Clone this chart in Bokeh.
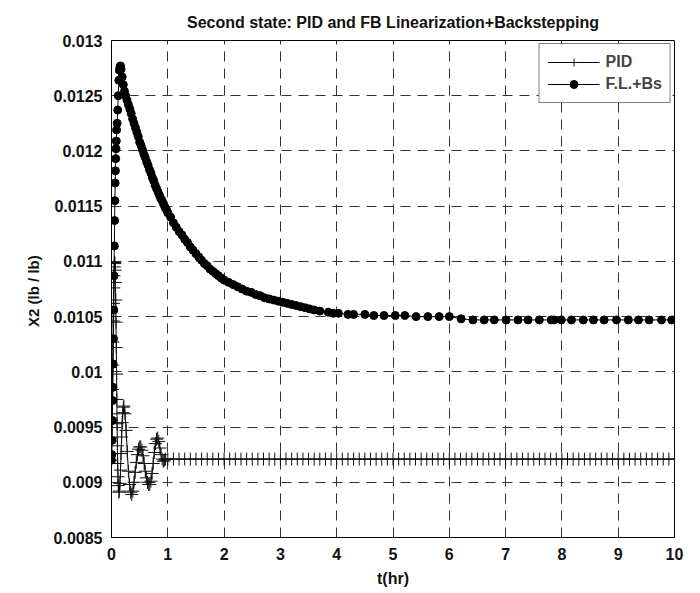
from bokeh.plotting import figure
from bokeh.models import Range1d, FixedTicker, Legend, LegendItem
from bokeh.embed import file_html
from bokeh.resources import INLINE

# ---------------- data ----------------
x_ticks = [0, 1, 2, 3, 4, 5, 6, 7, 8, 9, 10]
y_ticks = [0.0085, 0.009, 0.0095, 0.01, 0.0105, 0.011, 0.0115, 0.012, 0.0125, 0.013]
y_tick_labels = ["0.0085", "0.009", "0.0095", "0.01", "0.0105", "0.011", "0.0115", "0.012", "0.0125", "0.013"]

# PID response: transient part
pid_t = [0.000, 0.005, 0.010, 0.015, 0.020, 0.025, 0.030, 0.035, 0.040, 0.045,
         0.050, 0.055, 0.060, 0.065, 0.070, 0.075, 0.080, 0.085, 0.090, 0.095,
         0.100, 0.105, 0.110, 0.115, 0.120, 0.130, 0.140, 0.150, 0.160, 0.170,
         0.180, 0.190, 0.200, 0.210, 0.220, 0.240, 0.260, 0.280, 0.300, 0.320,
         0.340, 0.360, 0.380, 0.400, 0.420, 0.440, 0.460, 0.480, 0.500, 0.520,
         0.540, 0.560, 0.580, 0.600, 0.620, 0.640, 0.660, 0.680, 0.700, 0.720,
         0.740, 0.760, 0.780, 0.800, 0.820, 0.840, 0.860, 0.880, 0.900, 0.920,
         0.940, 0.960]
pid_x2 = [0.00920, 0.00940, 0.00962, 0.00984, 0.01006, 0.01027, 0.01046, 0.01062, 0.01076, 0.01087,
          0.01095, 0.01099, 0.01098, 0.01092, 0.01081, 0.01065, 0.01045, 0.01022, 0.00998, 0.00975,
          0.00953, 0.00933, 0.00917, 0.00905, 0.00897, 0.00891, 0.00892, 0.00899, 0.00911, 0.00926,
          0.00941, 0.00954, 0.00963, 0.00968, 0.00969, 0.00962, 0.00947, 0.00928, 0.00910, 0.00898,
          0.00891, 0.00889, 0.00892, 0.00900, 0.00909, 0.00918, 0.00925, 0.00930, 0.00932, 0.00932,
          0.00929, 0.00924, 0.00917, 0.00910, 0.00904, 0.00900, 0.00898, 0.00898, 0.00901, 0.00908,
          0.00917, 0.00927, 0.00935, 0.00939, 0.00940, 0.00937, 0.00931, 0.00925, 0.00921, 0.00919,
          0.00920, 0.00921]

# PID response: steady part
pid_tail_t = [1.0, 1.1, 1.2, 1.3, 1.4, 1.5, 1.6, 1.7, 1.8, 1.9,
              2.0, 2.1, 2.2, 2.3, 2.4, 2.5, 2.6, 2.7, 2.8, 2.9,
              3.0, 3.1, 3.2, 3.3, 3.4, 3.5, 3.6, 3.7, 3.8, 3.9,
              4.0, 4.1, 4.2, 4.3, 4.4, 4.5, 4.6, 4.7, 4.8, 4.9,
              5.0, 5.1, 5.2, 5.3, 5.4, 5.5, 5.6, 5.7, 5.8, 5.9,
              6.0, 6.1, 6.2, 6.3, 6.4, 6.5, 6.6, 6.7, 6.8, 6.9,
              7.0, 7.1, 7.2, 7.3, 7.4, 7.5, 7.6, 7.7, 7.8, 7.9,
              8.0, 8.1, 8.2, 8.3, 8.4, 8.5, 8.6, 8.7, 8.8, 8.9,
              9.0, 9.1, 9.2, 9.3, 9.4, 9.5, 9.6, 9.7, 9.8, 9.9,
              10.0]
pid_tail_x2 = [0.00921, 0.00921, 0.00921, 0.00921, 0.00921, 0.00921, 0.00921, 0.00921, 0.00921, 0.00921,
               0.00921, 0.00921, 0.00921, 0.00921, 0.00921, 0.00921, 0.00921, 0.00921, 0.00921, 0.00921,
               0.00921, 0.00921, 0.00921, 0.00921, 0.00921, 0.00921, 0.00921, 0.00921, 0.00921, 0.00921,
               0.00921, 0.00921, 0.00921, 0.00921, 0.00921, 0.00921, 0.00921, 0.00921, 0.00921, 0.00921,
               0.00921, 0.00921, 0.00921, 0.00921, 0.00921, 0.00921, 0.00921, 0.00921, 0.00921, 0.00921,
               0.00921, 0.00921, 0.00921, 0.00921, 0.00921, 0.00921, 0.00921, 0.00921, 0.00921, 0.00921,
               0.00921, 0.00921, 0.00921, 0.00921, 0.00921, 0.00921, 0.00921, 0.00921, 0.00921, 0.00921,
               0.00921, 0.00921, 0.00921, 0.00921, 0.00921, 0.00921, 0.00921, 0.00921, 0.00921, 0.00921,
               0.00921, 0.00921, 0.00921, 0.00921, 0.00921, 0.00921, 0.00921, 0.00921, 0.00921, 0.00921,
               0.00921]

# Feedback linearization + backstepping response
fl_t = [0.000, 0.005, 0.010, 0.015, 0.020, 0.025, 0.030, 0.035, 0.040, 0.045,
        0.050, 0.055, 0.060, 0.065, 0.070, 0.075, 0.080, 0.085, 0.090, 0.100,
        0.110, 0.120, 0.130, 0.140, 0.150, 0.160, 0.170, 0.190, 0.210, 0.230,
        0.250, 0.275, 0.300, 0.325, 0.350, 0.375, 0.400, 0.425, 0.450, 0.475,
        0.500, 0.525, 0.550, 0.575, 0.600, 0.625, 0.650, 0.675, 0.700, 0.725,
        0.750, 0.775, 0.800, 0.825, 0.850, 0.875, 0.900, 0.925, 0.950, 0.975,
        1.00, 1.05, 1.10, 1.15, 1.20, 1.25, 1.30, 1.35, 1.40, 1.45,
        1.50, 1.55, 1.60, 1.65, 1.70, 1.75, 1.80, 1.85, 1.90, 1.95,
        2.00, 2.08, 2.16, 2.24, 2.32, 2.40, 2.48, 2.56, 2.64, 2.72,
        2.80, 2.88, 2.96, 3.04, 3.12, 3.20, 3.28, 3.36, 3.44, 3.52,
        3.60, 3.70, 3.85, 3.94, 4.03, 4.20, 4.30, 4.50, 4.66, 4.84,
        5.04, 5.21, 5.41, 5.62, 5.82, 6.00, 6.21, 6.42, 6.62, 6.80,
        7.01, 7.22, 7.40, 7.60, 7.81, 7.86, 7.99, 8.17, 8.38, 8.56,
        8.75, 8.97, 9.18, 9.36, 9.55, 9.77, 9.95, 10.00]
fl_x2 = [0.00920, 0.00925, 0.00938, 0.00956, 0.00974, 0.00986, 0.01007, 0.01030, 0.01056, 0.01087,
         0.01114, 0.01137, 0.01155, 0.01171, 0.01182, 0.01193, 0.01202, 0.01209, 0.01219, 0.01225,
         0.01237, 0.01250, 0.01264, 0.01273, 0.01276, 0.01277, 0.01274, 0.01267, 0.01260, 0.01254,
         0.01250, 0.01246, 0.01242, 0.01238, 0.01234, 0.01229, 0.01225, 0.01221, 0.01217, 0.01213,
         0.01208, 0.01205, 0.01201, 0.01197, 0.01194, 0.01190, 0.01187, 0.01183, 0.01180, 0.01176,
         0.01173, 0.01169, 0.01166, 0.01163, 0.01160, 0.01157, 0.01155, 0.01152, 0.01149, 0.01147,
         0.01144, 0.01140, 0.01135, 0.01131, 0.01127, 0.01124, 0.01120, 0.01117, 0.01113, 0.01110,
         0.01107, 0.01104, 0.01101, 0.01098, 0.01096, 0.01093, 0.01091, 0.01089, 0.01087, 0.01085,
         0.01083, 0.01081, 0.01079, 0.01077, 0.01075, 0.01073, 0.01072, 0.01070, 0.01069, 0.01067,
         0.01066, 0.01065, 0.01064, 0.01063, 0.01062, 0.01061, 0.01060, 0.01059, 0.01058, 0.01057,
         0.01056, 0.01055, 0.01054, 0.01053, 0.01053, 0.01052, 0.01052, 0.01052, 0.01051, 0.01051,
         0.01051, 0.01051, 0.01050, 0.01050, 0.01050, 0.01050, 0.01048, 0.01047, 0.01047, 0.01047,
         0.01047, 0.01047, 0.01047, 0.01047, 0.01047, 0.01047, 0.01047, 0.01047, 0.01047, 0.01047,
         0.01047, 0.01047, 0.01047, 0.01047, 0.01047, 0.01047, 0.01047, 0.01047]

assert len(pid_t) == len(pid_x2)
assert len(pid_tail_t) == len(pid_tail_x2)
assert len(fl_t) == len(fl_x2)

# ---------------- figure ----------------
FONT = "Liberation Sans"

p = figure(width=700, height=593, output_backend="svg", toolbar_location=None,
           x_range=Range1d(0, 10), y_range=Range1d(0.0085, 0.013),
           min_border_left=111, min_border_right=26, min_border_top=40, min_border_bottom=56,
           title="Second state: PID and FB Linearization+Backstepping")
p.background_fill_color = "white"
p.border_fill_color = "white"
p.outline_line_color = "black"
p.outline_line_width = 1
p.outline_line_alpha = 1

p.title.align = "center"
p.title.text_font = FONT
p.title.text_font_size = "16px"
p.title.text_font_style = "bold"
p.title.text_color = "#111111"
p.title.standoff = 19

p.xaxis.ticker = FixedTicker(ticks=x_ticks)
p.yaxis.ticker = FixedTicker(ticks=y_ticks)
p.yaxis.major_label_overrides = dict(zip(y_ticks, y_tick_labels))
p.xaxis.axis_label = "t(hr)"
p.yaxis.axis_label = "X2  (lb / lb)"
for ax in (p.xaxis, p.yaxis):
    ax.major_tick_in = 0
    ax.major_tick_out = 0
    ax.minor_tick_in = 0
    ax.minor_tick_out = 0
    ax.axis_line_color = "black"
    ax.major_label_text_font = FONT
    ax.major_label_text_font_size = "16px"
    ax.major_label_text_font_style = "bold"
    ax.major_label_text_color = "#111111"
    ax.axis_label_text_font = FONT
    ax.axis_label_text_font_size = "16px"
    ax.axis_label_text_font_style = "bold"
    ax.axis_label_text_color = "#111111"
p.yaxis.axis_label_text_font_size = "15px"
p.xaxis.major_label_standoff = 10
p.xaxis.axis_label_standoff = 7
p.yaxis.major_label_standoff = 9
p.yaxis.axis_label_standoff = 9

p.xgrid.ticker = FixedTicker(ticks=x_ticks)
p.ygrid.ticker = FixedTicker(ticks=y_ticks)
for g in (p.xgrid, p.ygrid):
    g.grid_line_color = "#333333"
    g.grid_line_width = 1
    g.grid_line_dash = "10 7"

pid_all_t = pid_t + pid_tail_t
pid_all_x2 = pid_x2 + pid_tail_x2

pid_line = p.line(pid_all_t, pid_all_x2, line_color="black", line_width=1)
pid_pts = p.scatter(pid_all_t, pid_all_x2, marker="cross", size=13,
                    line_color="#111111", line_width=1)
fl_line = p.line(fl_t, fl_x2, line_color="black", line_width=1)
fl_pts = p.scatter(fl_t, fl_x2, marker="circle", size=8,
                   fill_color="black", line_color="black")

legend = Legend(items=[LegendItem(label="PID", renderers=[pid_line, pid_pts]),
                       LegendItem(label="F.L.+Bs", renderers=[fl_line, fl_pts])],
                location="top_right")
legend.margin = 3
legend.padding = 8
legend.spacing = 2
legend.glyph_width = 52
legend.glyph_height = 20
legend.label_height = 20
legend.label_standoff = 6
legend.label_text_font = FONT
legend.label_text_font_size = "16px"
legend.label_text_font_style = "bold"
legend.border_line_color = "black"
legend.border_line_width = 1
legend.background_fill_color = "white"
legend.background_fill_alpha = 1
p.add_layout(legend)

open("out.html", "w").write(file_html(p, INLINE))
